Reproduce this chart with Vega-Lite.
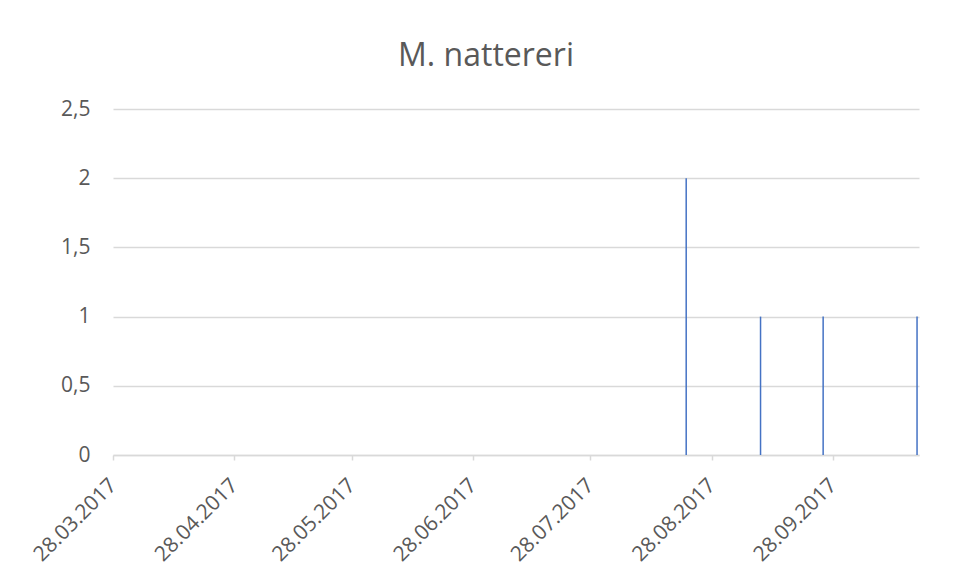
{
  "$schema": "https://vega.github.io/schema/vega-lite/v6.json",
  "width": 806,
  "height": 346,
  "autosize": {"type": "none"},
  "padding": {"left": 113, "top": 109, "right": 36, "bottom": 127},
  "background": "white",
  "title": {
    "text": "M. nattereri",
    "font": "Open Sans",
    "fontSize": 32,
    "fontWeight": "normal",
    "color": "#595959",
    "anchor": "middle",
    "frame": "group",
    "offset": 25,
    "dx": -30
  },
  "data": {
    "values": [
      {"date": "21.08.2017", "count": 2},
      {"date": "09.09.2017", "count": 1},
      {"date": "25.09.2017", "count": 1},
      {"date": "19.10.2017", "count": 1}
    ],
    "format": {"parse": {"date": "date:'%d.%m.%Y'"}}
  },
  "mark": {"type": "rule", "color": "#4472C4", "strokeWidth": 1.5},
  "encoding": {
    "x": {
      "field": "date",
      "type": "temporal",
      "timeUnit": "yearmonthdate",
      "bandPosition": 0.5,
      "scale": {
        "domain": [
          {"year": 2017, "month": 3, "date": 28},
          {"year": 2017, "month": 10, "date": 20}
        ],
        "nice": false
      },
      "axis": {
        "title": null,
        "values": [
          {"year": 2017, "month": 3, "date": 28},
          {"year": 2017, "month": 4, "date": 28},
          {"year": 2017, "month": 5, "date": 28},
          {"year": 2017, "month": 6, "date": 28},
          {"year": 2017, "month": 7, "date": 28},
          {"year": 2017, "month": 8, "date": 28},
          {"year": 2017, "month": 9, "date": 28}
        ],
        "format": "%d.%m.%Y",
        "labelAngle": -45,
        "labelAlign": "right",
        "labelBaseline": "middle",
        "labelFont": "Open Sans",
        "labelFontSize": 21,
        "labelColor": "#595959",
        "labelPadding": 22,
        "grid": false,
        "domainColor": "#d9d9d9",
        "domainWidth": 1.5,
        "tickColor": "#d9d9d9",
        "tickWidth": 1.5,
        "tickSize": 5
      }
    },
    "y": {
      "field": "count",
      "type": "quantitative",
      "scale": {"domain": [0, 2.5], "nice": false},
      "axis": {
        "title": null,
        "values": [0, 0.5, 1, 1.5, 2, 2.5],
        "labelExpr": "replace(toString(datum.value), '.', ',')",
        "labelFont": "Open Sans",
        "labelFontSize": 21,
        "labelColor": "#595959",
        "labelPadding": 23,
        "domain": false,
        "ticks": false,
        "grid": true,
        "gridColor": "#d9d9d9",
        "gridWidth": 1.5
      }
    },
    "y2": {"datum": 0}
  },
  "config": {"view": {"stroke": null}}
}
